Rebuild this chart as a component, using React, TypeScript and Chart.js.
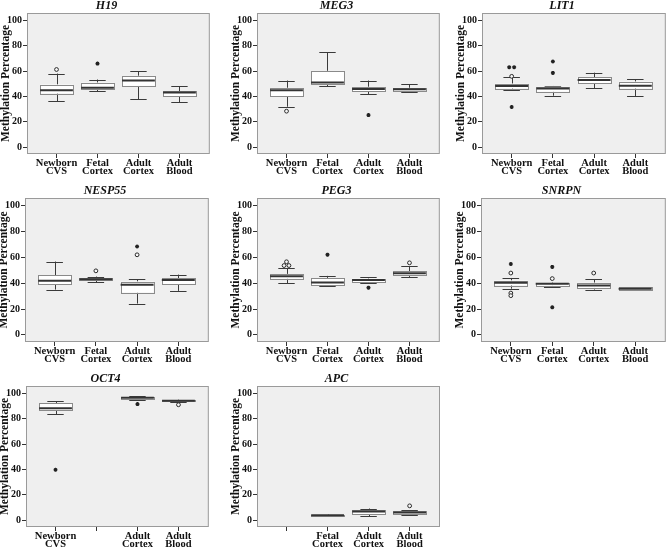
import React, { useEffect, useRef } from 'react';
import { Chart, registerables } from 'chart.js';

Chart.register(...registerables);
const SERIF = "'Liberation Serif', 'Times New Roman', Times, serif";
Chart.defaults.font.family = SERIF;

// ---------- DATA ----------
const CATEGORY_LABELS = [['Newborn', 'CVS'], ['Fetal', 'Cortex'], ['Adult', 'Cortex'], ['Adult', 'Blood']];
const Y_TICKS = [0, 20, 40, 60, 80, 100];
const Y_TITLE = 'Methylation Percentage';

// box stats per category: [lower whisker, Q1, median, Q3, upper whisker]; null = no samples
const H19_BOXES = [[36.2, 42.3, 44.9, 49.3, 58], [44, 46, 46.7, 50.8, 53.3], [37.8, 48.3, 52.5, 56.2, 59.8], [35.4, 40.2, 43, 44.1, 48]];
const H19_OUTLIERS = [[0, 61.2]];
const H19_EXTREMES = [[1, 65.9]];

const MEG3_BOXES = [[31.8, 40.2, 44.9, 46.7, 52.5], [47.8, 49.5, 50.9, 60.1, 75], [41.7, 44.1, 45.9, 47.5, 52.5], [43.3, 44.1, 45.7, 46.7, 49.6]];
const MEG3_OUTLIERS = [[0, 28.3]];
const MEG3_EXTREMES = [[2, 25.2]];

const LIT1_BOXES = [[44.9, 46.3, 48.2, 50, 55.3], [40.5, 43.7, 46.3, 47.6, 48.2], [46.3, 50.3, 52.9, 55, 58.7], [40.3, 46.3, 48.4, 51.6, 53.4]];
const LIT1_OUTLIERS = [[0, 55.8]];
const LIT1_EXTREMES = [[0, 63], [0, 63], [0, 31.6], [1, 67.5], [1, 58.5]];

const NESP55_BOXES = [[35, 38.7, 41.8, 45.9, 56.7], [40.7, 42, 43, 43.6, 45.1], [24.2, 32.7, 38.7, 41.2, 43], [34, 39.2, 42.5, 43.6, 46.6]];
const NESP55_OUTLIERS = [[1, 49.5], [2, 61.9]];
const NESP55_EXTREMES = [[2, 68.3]];

const PEG3_BOXES = [[40.1, 43.5, 45.3, 47.1, 51.8], [37.8, 38.3, 40.4, 44, 45.6], [40.4, 40.9, 42.4, 43.5, 44.5], [44.8, 45.8, 47.7, 49.2, 53.1]];
const PEG3_OUTLIERS = [[0, 56.5], [0, 53.6], [0, 53.6], [3, 55.7]];
const PEG3_EXTREMES = [[1, 62], [2, 36.5]];

const SNRPN_BOXES = [[35.7, 38.3, 40.3, 42, 44], [37, 38, 39.5, 40.1, 40.4], [35, 36.4, 38.2, 40.3, 43.2], [34.5, 34.8, 35.6, 36.8, 37]];
const SNRPN_OUTLIERS = [[0, 47.8], [0, 32.3], [0, 30.3], [1, 43.5], [2, 47.8]];
const SNRPN_EXTREMES = [[0, 54.8], [1, 52.5], [1, 21.3]];

const OCT4_BOXES = [[83.7, 86.8, 88.2, 92.4, 93.7], null, [95, 95.5, 96.6, 97.1, 97.6], [93.2, 93.7, 94.2, 94.7, 95]];
const OCT4_OUTLIERS = [[3, 91]];
const OCT4_EXTREMES = [[0, 39.7], [2, 91.5]];

const APC_BOXES = [null, [3.2, 3.4, 3.7, 4.0, 4.3], [2.9, 4.4, 6.8, 7.6, 9.1], [4.2, 4.7, 6, 6.8, 7.8]];
const APC_OUTLIERS = [[3, 11.2]];
const APC_EXTREMES: number[][] = [];

// ---------- LAYOUT (page pixels of each plot frame) ----------
const PANELS = [
  { gene: 'H19', boxes: H19_BOXES, outliers: H19_OUTLIERS, extremes: H19_EXTREMES, L: 27, R: 213, T: 13, B: 154 },
  { gene: 'MEG3', boxes: MEG3_BOXES, outliers: MEG3_OUTLIERS, extremes: MEG3_EXTREMES, L: 257, R: 443, T: 13, B: 154 },
  { gene: 'LIT1', boxes: LIT1_BOXES, outliers: LIT1_OUTLIERS, extremes: LIT1_EXTREMES, L: 482, R: 669, T: 13, B: 154 },
  { gene: 'NESP55', boxes: NESP55_BOXES, outliers: NESP55_OUTLIERS, extremes: NESP55_EXTREMES, L: 25, R: 212, T: 198, B: 342 },
  { gene: 'PEG3', boxes: PEG3_BOXES, outliers: PEG3_OUTLIERS, extremes: PEG3_EXTREMES, L: 257, R: 443, T: 198, B: 342 },
  { gene: 'SNRPN', boxes: SNRPN_BOXES, outliers: SNRPN_OUTLIERS, extremes: SNRPN_EXTREMES, L: 481, R: 669, T: 198, B: 342 },
  { gene: 'OCT4', boxes: OCT4_BOXES, outliers: OCT4_OUTLIERS, extremes: OCT4_EXTREMES, L: 26, R: 212, T: 386, B: 527 },
  { gene: 'APC', boxes: APC_BOXES, outliers: APC_OUTLIERS, extremes: APC_EXTREMES, L: 257, R: 443, T: 386, B: 527 },
];

const Y_AXIS_W = 27;
const TITLE_H = 13;
const X_AXIS_H = 24;
const RIGHT_PAD = 2;
const X_MIN = -0.72;
const X_MAX = 3.74;
const Y_MIN = -5.5;
const Y_MAX = 105.8;
const BOX_HALF = 0.4;

// spread identical outliers side by side
function toPoints(list: number[][]) {
  return list.map((p, i) => {
    const same = list.filter((q) => q[0] === p[0] && Math.abs(q[1] - p[1]) < 0.5);
    if (same.length < 2) return { x: p[0], y: p[1] };
    const k = list.slice(0, i).filter((q) => q[0] === p[0] && Math.abs(q[1] - p[1]) < 0.5).length;
    return { x: p[0] + (k - (same.length - 1) / 2) * 0.12, y: p[1] };
  });
}

const boxPlugin = {
  id: 'boxplot',
  beforeDraw(chart: any) {
    const { ctx, chartArea: a } = chart;
    ctx.save();
    ctx.fillStyle = '#efefef';
    ctx.fillRect(a.left, a.top, a.right - a.left, a.bottom - a.top);
    ctx.restore();
  },
  beforeDatasetsDraw(chart: any, _args: any, opts: any) {
    const { ctx, scales } = chart;
    const xs = scales.x;
    const ys = scales.y;
    const boxes = opts.boxes || [];
    ctx.save();
    boxes.forEach((b: number[] | null, i: number) => {
      if (!b) return;
      const cx = xs.getPixelForValue(i);
      const hw = xs.getPixelForValue(i + BOX_HALF) - cx;
      const cw = hw / 2;
      const [lo, q1, med, q3, hi] = b.map((v) => ys.getPixelForValue(v));
      ctx.strokeStyle = '#3a3a3a';
      ctx.lineWidth = 1;
      ctx.beginPath();
      ctx.moveTo(Math.round(cx) + 0.5, q3);
      ctx.lineTo(Math.round(cx) + 0.5, hi);
      ctx.moveTo(Math.round(cx) + 0.5, q1);
      ctx.lineTo(Math.round(cx) + 0.5, lo);
      ctx.moveTo(cx - cw, Math.round(hi) + 0.5);
      ctx.lineTo(cx + cw, Math.round(hi) + 0.5);
      ctx.moveTo(cx - cw, Math.round(lo) + 0.5);
      ctx.lineTo(cx + cw, Math.round(lo) + 0.5);
      ctx.stroke();
      ctx.fillStyle = '#ffffff';
      ctx.fillRect(cx - hw, q3, 2 * hw, q1 - q3);
      ctx.strokeStyle = '#8a8a8a';
      ctx.lineWidth = 1;
      ctx.strokeRect(Math.round(cx - hw) + 0.5, Math.round(q3) + 0.5, Math.round(2 * hw), Math.max(1, Math.round(q1 - q3)));
      ctx.strokeStyle = '#333333';
      ctx.lineWidth = 2;
      ctx.beginPath();
      ctx.moveTo(cx - hw, med);
      ctx.lineTo(cx + hw, med);
      ctx.stroke();
    });
    ctx.restore();
  },
  afterDraw(chart: any) {
    const { ctx, chartArea: a } = chart;
    ctx.save();
    ctx.strokeStyle = '#9a9a9a';
    ctx.lineWidth = 1;
    ctx.strokeRect(a.left + 0.5, a.top + 0.5, a.right - a.left - 1, a.bottom - a.top - 1);
    ctx.restore();
  },
};

function Panel(props: any) {
  const { gene, boxes, outliers, extremes, L, R, T, B } = props;
  const ref = useRef<HTMLCanvasElement>(null);
  const left = L - Y_AXIS_W;
  const top = T - TITLE_H;
  const width = R - left + RIGHT_PAD;
  const height = B - top + X_AXIS_H;

  useEffect(() => {
    if (!ref.current) return;
    const chart = new Chart(ref.current, {
      type: 'scatter',
      data: {
        datasets: [
          {
            data: toPoints(outliers),
            pointStyle: 'circle',
            pointRadius: 1.9,
            backgroundColor: '#f6f6f6',
            borderColor: '#2a2a2a',
            borderWidth: 1,
          },
          {
            data: toPoints(extremes),
            pointStyle: 'star',
            pointRadius: 2,
            backgroundColor: '#222',
            borderColor: '#222',
            borderWidth: 1.2,
          },
        ],
      } as any,
      plugins: [boxPlugin as any],
      options: {
        responsive: false,
        animation: false,
        devicePixelRatio: 1,
        events: [],
        layout: { padding: { left: 0, top: 0, right: RIGHT_PAD, bottom: 0 } },
        plugins: {
          legend: { display: false },
          tooltip: { enabled: false },
          title: {
            display: true,
            text: gene,
            color: '#111',
            font: { family: SERIF, size: 12, weight: 'bold', style: 'italic', lineHeight: 1 },
            padding: { top: 0, bottom: 1 },
          },
          boxplot: { boxes },
        } as any,
        scales: {
          x: {
            type: 'linear',
            min: X_MIN,
            max: X_MAX,
            afterBuildTicks: (s: any) => {
              s.ticks = CATEGORY_LABELS.map((_, i) => ({ value: i }));
            },
            afterFit: (s: any) => {
              s.height = X_AXIS_H;
            },
            ticks: {
              autoSkip: false,
              maxRotation: 0,
              minRotation: 0,
              padding: 1,
              color: '#111',
              font: { family: SERIF, size: 10.5, weight: 'bold', lineHeight: 0.8 },
              callback: (v: any) => (boxes[v] ? CATEGORY_LABELS[v] : ''),
            },
            grid: { drawOnChartArea: false, drawTicks: true, tickLength: 4, color: '#333' },
            border: { display: false },
          },
          y: {
            type: 'linear',
            min: Y_MIN,
            max: Y_MAX,
            afterBuildTicks: (s: any) => {
              s.ticks = Y_TICKS.map((v) => ({ value: v }));
            },
            afterFit: (s: any) => {
              s.width = Y_AXIS_W;
            },
            ticks: {
              padding: 1,
              color: '#111',
              font: { family: SERIF, size: 10, weight: 'bold' },
            },
            title: {
              display: true,
              text: Y_TITLE,
              color: '#111',
              font: { family: SERIF, size: 11.5, weight: 'bold', lineHeight: 1 },
              padding: { top: 0, bottom: 0 },
            },
            grid: { drawOnChartArea: false, drawTicks: true, tickLength: 4, color: '#333' },
            border: { display: false },
          },
        },
      } as any,
    });
    return () => chart.destroy();
  }, []);

  return (
    <canvas
      ref={ref}
      width={width}
      height={height}
      style={{ position: 'absolute', left, top, width, height }}
    />
  );
}

export default function App() {
  return (
    <div style={{ position: 'absolute', left: 0, top: 0, width: 671, height: 550, background: '#fff', overflow: 'hidden' }}>
      {PANELS.map((p) => (
        <Panel key={p.gene} {...p} />
      ))}
    </div>
  );
}
